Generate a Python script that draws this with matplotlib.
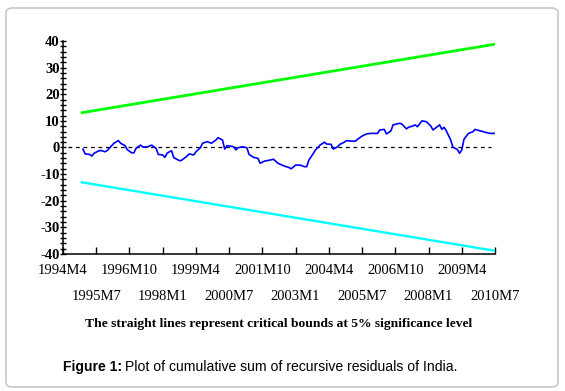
import matplotlib
matplotlib.use("Agg")
import matplotlib.pyplot as plt
from matplotlib.patches import FancyBboxPatch

# months counted from 1994M4 (= 0)
cusum_month = [9, 10, 12, 13, 14, 16, 17, 19, 20, 22, 23, 25, 26, 28, 29, 31, 32, 33, 35, 36,
               38, 40, 42, 43, 45, 46, 47, 49, 50, 52, 53, 54, 56, 57, 59, 60, 62, 63, 65, 67,
               69, 70, 72, 73, 74, 75, 77, 78, 79, 81, 83, 84, 86, 88, 89, 91, 93, 95, 97, 98,
               100, 102, 103, 105, 107, 109, 110, 111, 112, 114, 116, 118, 119, 121, 122, 124, 125, 127, 128, 130,
               132, 133, 135, 137, 139, 142, 143, 145, 146, 148, 149, 152, 153, 155, 156, 158, 159, 160, 162, 164,
               166, 167, 170, 171, 172, 173, 175, 176, 178, 179, 180, 181, 183, 185, 186, 188, 190, 191, 193, 195]
cusum_value = [-0.6, -2.4, -2.6, -3.2, -2.2, -1.3, -1.1, -1.6, -1.1, 0.7, 1.6, 2.6, 1.6, 0.7, -0.8, -2.0, -2.0, -0.3, 0.9, 0.2,
               0.2, 0.9, -0.3, -2.6, -2.8, -3.7, -2.1, -1.2, -3.8, -4.7, -5.0, -4.5, -3.2, -2.4, -2.8, -1.6, -0.1, 1.6, 2.2, 1.6,
               2.8, 3.7, 2.8, -0.6, 0.7, 0.6, 0.3, -0.9, -0.1, 0.3, -0.1, -2.6, -3.7, -4.1, -5.9, -5.1, -4.8, -4.4, -5.9, -6.3,
               -7.0, -7.5, -8.0, -6.6, -6.6, -7.2, -7.2, -4.7, -3.5, -0.9, 0.9, 2.0, 1.3, 1.2, -0.6, 0.3, 1.2, 2.0, 2.6, 2.4,
               2.4, 3.1, 4.3, 5.1, 5.3, 5.3, 6.6, 6.8, 5.1, 6.2, 8.5, 9.1, 8.8, 7.0, 7.6, 8.1, 8.5, 7.8, 10.0, 9.7,
               8.1, 6.6, 8.5, 6.8, 7.6, 6.3, 2.8, 0.1, -0.7, -2.2, -0.9, 3.1, 5.3, 5.9, 6.8, 6.3, 5.9, 5.6, 5.3, 5.3]

bound_month = [8, 195]
upper_bound = [13.0, 38.8]
lower_bound = [-13.0, -38.8]

row1_ticks = [0, 30, 60, 90, 120, 150, 180]
row1_labels = ["1994M4", "1996M10", "1999M4", "2001M10", "2004M4", "2006M10", "2009M4"]
row2_ticks = [15, 45, 75, 105, 135, 165, 195]
row2_labels = ["1995M7", "1998M1", "2000M7", "2003M1", "2005M7", "2008M1", "2010M7"]

plt.rcParams["axes.unicode_minus"] = False
serif = "Liberation Serif"

fig = plt.figure(figsize=(5.65, 3.91), dpi=100)
W, H = 565, 391
ax = fig.add_axes([63 / W, 1 - 254 / H, (495 - 63) / W, (254 - 41) / H])

ax.plot(bound_month, upper_bound, color="#00ff00", lw=2.0, solid_capstyle="butt")
ax.plot(bound_month, lower_bound, color="#00ffff", lw=1.7, solid_capstyle="butt")
ax.axhline(0, xmin=0.012, xmax=0.99, color="black", lw=0.9, ls=(0, (3, 3)))
ax.plot(cusum_month, cusum_value, color="#0000ff", lw=1.2)

ax.set_xlim(0, 195)
ax.set_ylim(-40, 40)
for s in ("top", "right"):
    ax.spines[s].set_visible(False)
for s in ("left", "bottom"):
    ax.spines[s].set_linewidth(1.1)

ax.set_yticks(range(-40, 41, 10))
ax.set_yticks(range(-40, 41, 2), minor=True)
ax.set_yticklabels([str(v) for v in range(-40, 41, 10)], fontfamily=serif,
                   fontweight="bold", fontsize=10.5)
ax.tick_params(axis="y", which="both", direction="inout", length=5, width=1, pad=0)

ax.set_xticks(row1_ticks)
ax.set_xticklabels(row1_labels, fontfamily=serif, fontsize=10.5)
ax.set_xticks(row2_ticks, minor=True)
ax.set_xticklabels(row2_labels, minor=True, fontfamily=serif, fontsize=10.5)
ax.tick_params(axis="x", which="both", direction="in", length=5, width=1)
ax.tick_params(axis="x", which="major", pad=7)
ax.tick_params(axis="x", which="minor", pad=26)

fig.text(279 / W, 1 - 324 / H,
         "The straight lines represent critical bounds at 5% significance level",
         ha="center", va="center", fontfamily=serif, fontweight="bold", fontsize=9.7)

# caption: bold lead-in followed by regular text
cap_bold = fig.text(63 / W, 1 - 367 / H, "Figure 1:", ha="left", va="center",
                    fontfamily="Liberation Sans", fontweight="bold", fontsize=10.1)
fig.canvas.draw()
bb = cap_bold.get_window_extent()
fig.text((bb.x1 + 3) / W, 1 - 367 / H, "Plot of cumulative sum of recursive residuals of India.",
         ha="left", va="center", fontfamily="Liberation Sans", fontsize=10.1)

frame = FancyBboxPatch((6 / W, 4 / H), (558 - 6) / W, (385 - 6) / H,
                       boxstyle="round,pad=0,rounding_size=0.012", transform=fig.transFigure,
                       facecolor="none", edgecolor="#c8c8c8", lw=1.2)
fig.patches.append(frame)

fig.savefig("out.png", dpi=100)
